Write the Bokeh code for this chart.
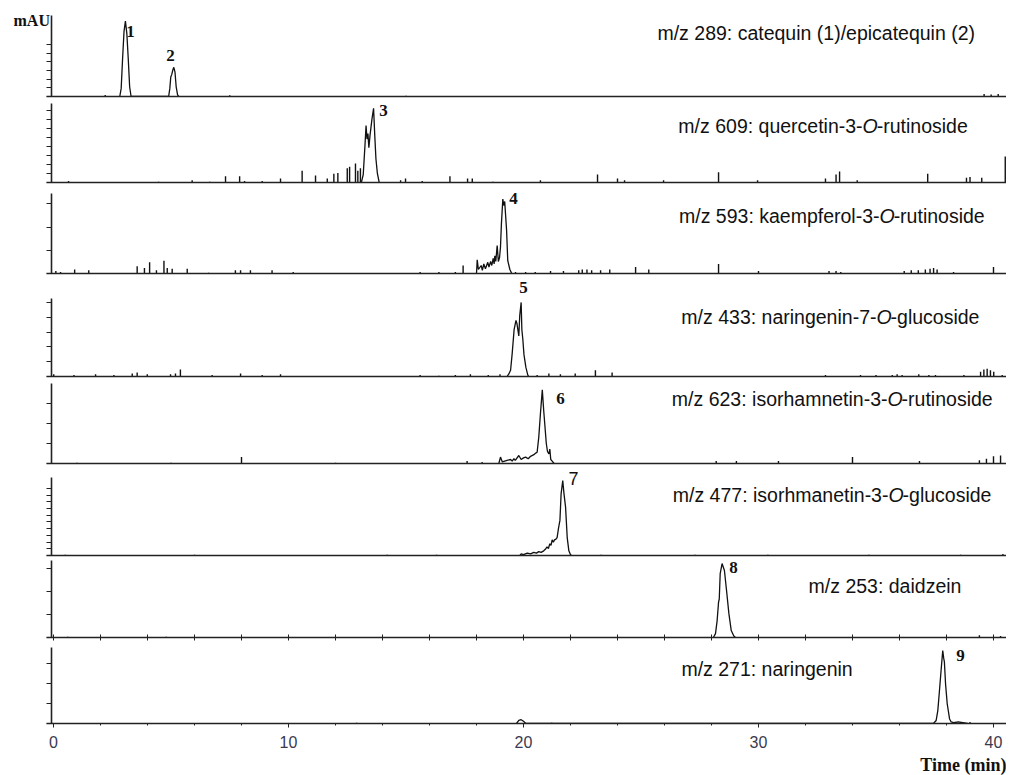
from bokeh.plotting import figure
from bokeh.layouts import column
from bokeh.models import Range1d, FixedTicker, Label, Title
from bokeh.embed import file_html
from bokeh.resources import INLINE

# ---------------- data (time in min, relative intensity) ----------------
time_ticks = [0, 10, 20, 30, 40]

# Panel 1: m/z 289
p1_t = [2.82, 2.88, 2.94, 3.0, 3.06, 3.12, 3.18, 3.24, 3.3,
        4.9, 4.95, 4.99, 5.03, 5.08, 5.12, 5.17, 5.22, 5.28, 5.33]
p1_y = [0, .1, .47, .8, .93, .78, .47, .12, 0,
        0, .1, .24, .27, .33, .36, .3, .12, .02, 0]
p1_spk_t = [2.2, 7.5, 15.0, 39.6, 39.9, 40.2]
p1_spk_h = [.02, .015, .01, .03, .025, .03]

# Panel 2: m/z 609
p2_t = [13.1, 13.18, 13.25, 13.3, 13.34, 13.38, 13.42, 13.47, 13.55, 13.62, 13.67, 13.72, 13.78, 13.86]
p2_y = [0, .1, .45, .72, .55, .62, .44, .6, .8, .94, .6, .3, .12, 0]
p2_spk_t = [0.64, 4.47, 5.9, 6.65, 7.32, 7.92, 8.13, 8.88, 9.66, 10.58, 11.15, 11.65, 11.93,
            12.1, 12.5, 12.6, 12.85, 12.95, 13.06, 14.77, 14.98, 15.69, 16.87, 17.62, 17.82,
            18.7, 20.72, 23.15, 24.0, 24.3, 25.96, 28.3, 29.96, 32.85, 33.3, 33.45, 34.2,
            37.2, 38.85, 39.0, 39.5, 40.5]
p2_spk_h = [.02, .01, .03, .01, .08, .08, .02, .02, .05, .15, .09, .05, .11,
            .12, .18, .2, .24, .15, .18, .03, .05, .02, .08, .05, .05,
            .01, .03, .1, .05, .03, .03, .13, .03, .05, .1, .14, .03,
            .11, .06, .07, .06, .33]

# Panel 3: m/z 593
p3_t = [18.0, 18.03, 18.08, 18.2, 18.25, 18.31, 18.38, 18.48, 18.53, 18.6, 18.65, 18.71, 18.75,
        18.78, 18.82, 18.88, 18.93, 18.98, 19.02, 19.06, 19.12, 19.16, 19.2, 19.28, 19.33, 19.42, 19.5]
p3_y = [0, .17, .05, .1, .04, .12, .06, .14, .08, .15, .1, .19, .12,
        .22, .15, .35, .15, .2, .33, .62, .93, .85, .9, .54, .16, .05, 0]
p3_spk_t = [0.1, 0.3, 0.9, 1.5, 3.56, 3.87, 4.09, 4.38, 4.7, 4.84, 5.05, 5.69, 6.6, 7.74, 7.96,
            8.38, 9.3, 10.2, 15.6, 16.4, 17.1, 17.43, 19.66, 20.09, 20.5, 21.15, 21.7, 22.35,
            22.5, 22.7, 22.9, 23.28, 23.67, 24.77, 25.33, 28.3, 30.0, 33.0, 33.3, 33.5, 36.2,
            36.5, 36.8, 37.1, 37.3, 37.45, 37.6, 38.3, 40.0]
p3_spk_h = [.03, .02, .05, .04, .09, .07, .14, .04, .16, .07, .06, .06, .01, .04, .04,
            .04, .04, .02, .02, .02, .02, .1, .02, .02, .02, .03, .03, .04,
            .05, .05, .04, .04, .05, .08, .05, .12, .03, .03, .03, .02, .03,
            .04, .04, .05, .06, .07, .05, .02, .08]

# Panel 4: m/z 433
p4_t = [19.3, 19.37, 19.45, 19.52, 19.6, 19.68, 19.72, 19.76, 19.8, 19.84, 19.9, 19.93, 19.97,
        20.02, 20.1, 20.18, 20.22]
p4_y = [0, .03, .08, .3, .6, .72, .68, .6, .52, .78, .95, .6, .48, .28, .12, .02, 0]
p4_spk_t = [0.01, 0.87, 1.79, 2.57, 3.35, 3.56, 3.99, 4.98, 5.19, 5.4, 6.75, 7.96, 8.88, 9.66,
            15.6, 16.4, 17.1, 17.74, 18.5, 19.0, 20.58, 21.08, 21.57, 22.2, 23.06, 23.77,
            32.85, 34.34, 35.0, 35.69, 35.9, 36.11, 36.82, 37.25, 37.53, 38.74, 39.45, 39.59,
            39.73, 39.87, 40.01, 40.37]
p4_spk_h = [.03, .02, .03, .02, .04, .05, .03, .03, .04, .09, .02, .04, .02, .03,
            .02, .01, .02, .03, .02, .03, .02, .04, .03, .04, .08, .05,
            .02, .02, .02, .02, .03, .02, .03, .02, .02, .02, .06, .09,
            .1, .08, .06, .02]

# Panel 5: m/z 623
p5_t = [18.95, 19.02, 19.1, 19.2, 19.3, 19.45, 19.52, 19.59, 19.65, 19.8, 19.9, 20.0, 20.09,
        20.2, 20.3, 20.44, 20.52, 20.58, 20.65, 20.72, 20.8, 20.86, 20.93, 20.97, 21.02, 21.08,
        21.12, 21.16, 21.22, 21.3]
p5_y = [0, .08, .02, .03, .04, .05, .03, .06, .04, .1, .05, .07, .08,
        .06, .09, .11, .13, .14, .33, .62, .92, .66, .4, .25, .15, .12,
        .18, .05, .03, 0]
p5_spk_t = [1.0, 5.0, 8.0, 12.0, 17.6, 18.24, 28.2, 29.06, 30.85, 34.0, 36.85, 39.4, 39.7, 40.0, 40.3]
p5_spk_h = [.01, .01, .08, .01, .03, .02, .03, .03, .03, .08, .03, .04, .06, .09, .1]

# Panel 6: m/z 477
p6_t = [19.85, 19.9, 20.0, 20.16, 20.3, 20.44, 20.55, 20.65, 20.75, 20.86, 20.93, 21.0, 21.06,
        21.12, 21.17, 21.22, 21.27, 21.32, 21.38, 21.43, 21.49, 21.55, 21.6, 21.67, 21.72, 21.79,
        21.86, 21.93, 22.0, 22.05]
p6_y = [0, .02, .01, .03, .02, .04, .03, .05, .04, .06, .08, .11, .09,
        .15, .13, .2, .17, .2, .21, .23, .35, .45, .79, .96, .8, .62,
        .23, .06, .01, 0]
p6_spk_t = [0.5, 6.0, 14.2, 16.3, 23.3, 27.3, 30.4, 34.7, 38.6, 40.4]
p6_spk_h = [.01, .01, .01, .01, .01, .01, .01, .01, .01, .02]

# Panel 7: m/z 253
p7_t = [28.08, 28.17, 28.24, 28.3, 28.33, 28.37, 28.45, 28.55, 28.64, 28.74, 28.84, 28.95, 29.02]
p7_y = [0, .05, .22, .46, .5, .83, .96, .87, .61, .31, .09, .02, 0]
p7_spk_t = [0.6, 4.8, 39.4, 40.3]
p7_spk_h = [.01, .01, .03, .02]

# Panel 8: m/z 271
p8_t = [19.7, 19.8, 19.9, 20.0, 20.1,
        37.44, 37.56, 37.63, 37.7, 37.77, 37.84, 37.88, 37.91, 37.96, 38.03, 38.13, 38.2, 38.3,
        38.5, 38.7, 38.9]
p8_y = [0, .04, .05, .03, 0,
        0, .04, .17, .43, .7, .96, .86, .81, .52, .26, .06, .02, .01,
        .02, .01, 0]
p8_spk_t = [12.9, 21.2, 38.6, 39.0]
p8_spk_h = [.01, .01, .02, .02]

# panel titles: (text before italic O, italic part, text after)
titles = [
    ("m/z 289: catequin (1)/epicatequin (2)", None, None),
    ("m/z 609: quercetin-3-", "O", "-rutinoside"),
    ("m/z 593: kaempferol-3-", "O", "-rutinoside"),
    ("m/z 433: naringenin-7-", "O", "-glucoside"),
    ("m/z 623: isorhamnetin-3-", "O", "-rutinoside"),
    ("m/z 477: isorhmanetin-3-", "O", "-glucoside"),
    ("m/z 253: daidzein", None, None),
    ("m/z 271: naringenin", None, None),
]
peak_numbers = [["1", "2"], ["3"], ["4"], ["5"], ["6"], ["7"], ["8"], ["9"]]

series = [
    (p1_t, p1_y, p1_spk_t, p1_spk_h),
    (p2_t, p2_y, p2_spk_t, p2_spk_h),
    (p3_t, p3_y, p3_spk_t, p3_spk_h),
    (p4_t, p4_y, p4_spk_t, p4_spk_h),
    (p5_t, p5_y, p5_spk_t, p5_spk_h),
    (p6_t, p6_y, p6_spk_t, p6_spk_h),
    (p7_t, p7_y, p7_spk_t, p7_spk_h),
    (p8_t, p8_y, p8_spk_t, p8_spk_h),
]

# ---------------- layout / style ----------------
axis_top_px = [15, 103, 193, 298, 383, 477, 560, 647]
base_px = [96, 182, 273, 376, 463, 555, 637, 723]
GAP = 4            # bottom border under panels 1-7
LAST_BOTTOM = 50   # bottom border of last panel (tick labels + title)
ytick_step = [0.107, 0.114, 0.29, 0.19, 0.25, 0.086, 0.30, 0.263]
ytick_n = [7, 9, 4, 6, 4, 11, 4, 4]
title_pos = [(25.70, 0.79), (34.43, 0.71), (35.15, 0.725), (35.02, 0.76),
             (35.49, 0.81), (35.53, 0.77), (32.13, 0.675), (26.72, 0.72)]
O_width = 0.6
peak_pos = [[(3.28, 0.80), (4.98, 0.51)], [(14.04, 0.91)], [(19.57, 0.94)], [(20.0, 1.14)],
            [(21.57, 0.81)], [(22.13, 0.99)], [(28.94, 0.91)], [(38.6, 0.89)]]

FRAME_LEFT = 10
FRAME_W = 996
X0 = -1.830
X1 = 40.553
AXIS_X = -0.085
BASE_X0 = -0.30
xr = Range1d(X0, X1)
AX = "#222222"
INK = "#111111"

figs = []
for i in range(8):
    t, y, st, sh = series[i]
    ftop = 0 if i == 0 else base_px[i - 1] + GAP
    fh = base_px[i] - ftop
    ytop = fh / (base_px[i] - axis_top_px[i])
    p = figure(frame_width=FRAME_W, frame_height=fh, x_range=xr,
               y_range=Range1d(0, ytop), output_backend="svg", toolbar_location=None,
               title=None, min_border_left=FRAME_LEFT, min_border_right=0,
               min_border_top=0, min_border_bottom=(GAP if i < 7 else LAST_BOTTOM))
    p.outline_line_color = None
    p.xgrid.visible = False
    p.ygrid.visible = False
    p.background_fill_color = "white"
    p.border_fill_color = "white"

    # y axis drawn at t = 0, only up to the panel top
    ya = p.yaxis[0]
    ya.fixed_location = AXIS_X
    ya.bounds = (0, 1)
    ya.ticker = FixedTicker(ticks=[], minor_ticks=[k * ytick_step[i] for k in range(ytick_n[i])])
    ya.major_tick_out = 0
    ya.major_tick_in = 0
    ya.minor_tick_out = 5
    ya.minor_tick_in = 0
    ya.axis_line_color = AX
    ya.axis_line_width = 1.6
    ya.minor_tick_line_color = AX
    ya.minor_tick_line_width = 1.2

    xa = p.xaxis[0]
    xa.bounds = (BASE_X0, X1)
    xa.axis_line_color = AX
    xa.axis_line_width = 1.6
    xa.major_tick_line_color = AX
    xa.minor_tick_line_color = AX
    if i < 7:
        xa.major_tick_out = 0
        xa.major_tick_in = 0
        if i == 6:
            xa.ticker = FixedTicker(ticks=[], minor_ticks=list(range(0, 41, 2)))
            xa.minor_tick_out = 3
            xa.minor_tick_in = 3
        else:
            xa.ticker = FixedTicker(ticks=[], minor_ticks=[])
            xa.minor_tick_out = 0
            xa.minor_tick_in = 0
    else:
        xa.ticker = FixedTicker(ticks=time_ticks, minor_ticks=list(range(0, 41, 2)))
        xa.major_tick_out = 4
        xa.major_tick_in = 0
        xa.minor_tick_out = 2
        xa.minor_tick_in = 0
        xa.major_label_text_font = "Liberation Sans"
        xa.major_label_text_font_size = "16px"
        xa.major_label_text_color = "#3a3a50"
        xa.major_label_standoff = 8
        p.add_layout(Title(text="Time (min)", align="right", text_font="Liberation Serif",
                           text_font_style="bold", text_font_size="18px",
                           text_color=INK, standoff=4), "below")

    # trace
    p.line(t, y, line_color=INK, line_width=1.3)
    p.segment(x0=st, y0=[0] * len(st), x1=st, y1=sh, line_color=INK, line_width=1.4)

    # title
    pre, it, post = titles[i]
    tx, ty = title_pos[i]
    tfont = dict(text_font="Liberation Sans", text_font_size="19.5px", text_color=INK,
                 text_baseline="middle")
    if it is None:
        p.add_layout(Label(x=tx, y=ty, text=pre, text_align="left", **tfont))
    else:
        p.add_layout(Label(x=tx, y=ty, text=pre, text_align="right", **tfont))
        p.add_layout(Label(x=tx, y=ty, text=it, text_align="left", text_font_style="italic", **tfont))
        p.add_layout(Label(x=tx + O_width, y=ty, text=post, text_align="left", **tfont))

    # peak numbers
    for num, (px_, py_) in zip(peak_numbers[i], peak_pos[i]):
        if num == "7":
            p.add_layout(Label(x=px_, y=py_, text=num, text_align="center", text_baseline="middle",
                               text_font="Liberation Sans", text_font_size="18px", text_color=INK))
        else:
            p.add_layout(Label(x=px_, y=py_, text=num, text_align="center", text_baseline="middle",
                               text_font="Liberation Serif", text_font_style="bold",
                               text_font_size="17px", text_color=INK))
    if i == 0:
        p.add_layout(Label(x=-0.15, y=0.94, text="mAU", text_align="right", text_baseline="middle",
                           text_font="Liberation Serif", text_font_style="bold",
                           text_font_size="16px", text_color=INK))
    figs.append(p)

layout = column(*figs, spacing=0)
open("out.html", "w").write(file_html(layout, INLINE))
